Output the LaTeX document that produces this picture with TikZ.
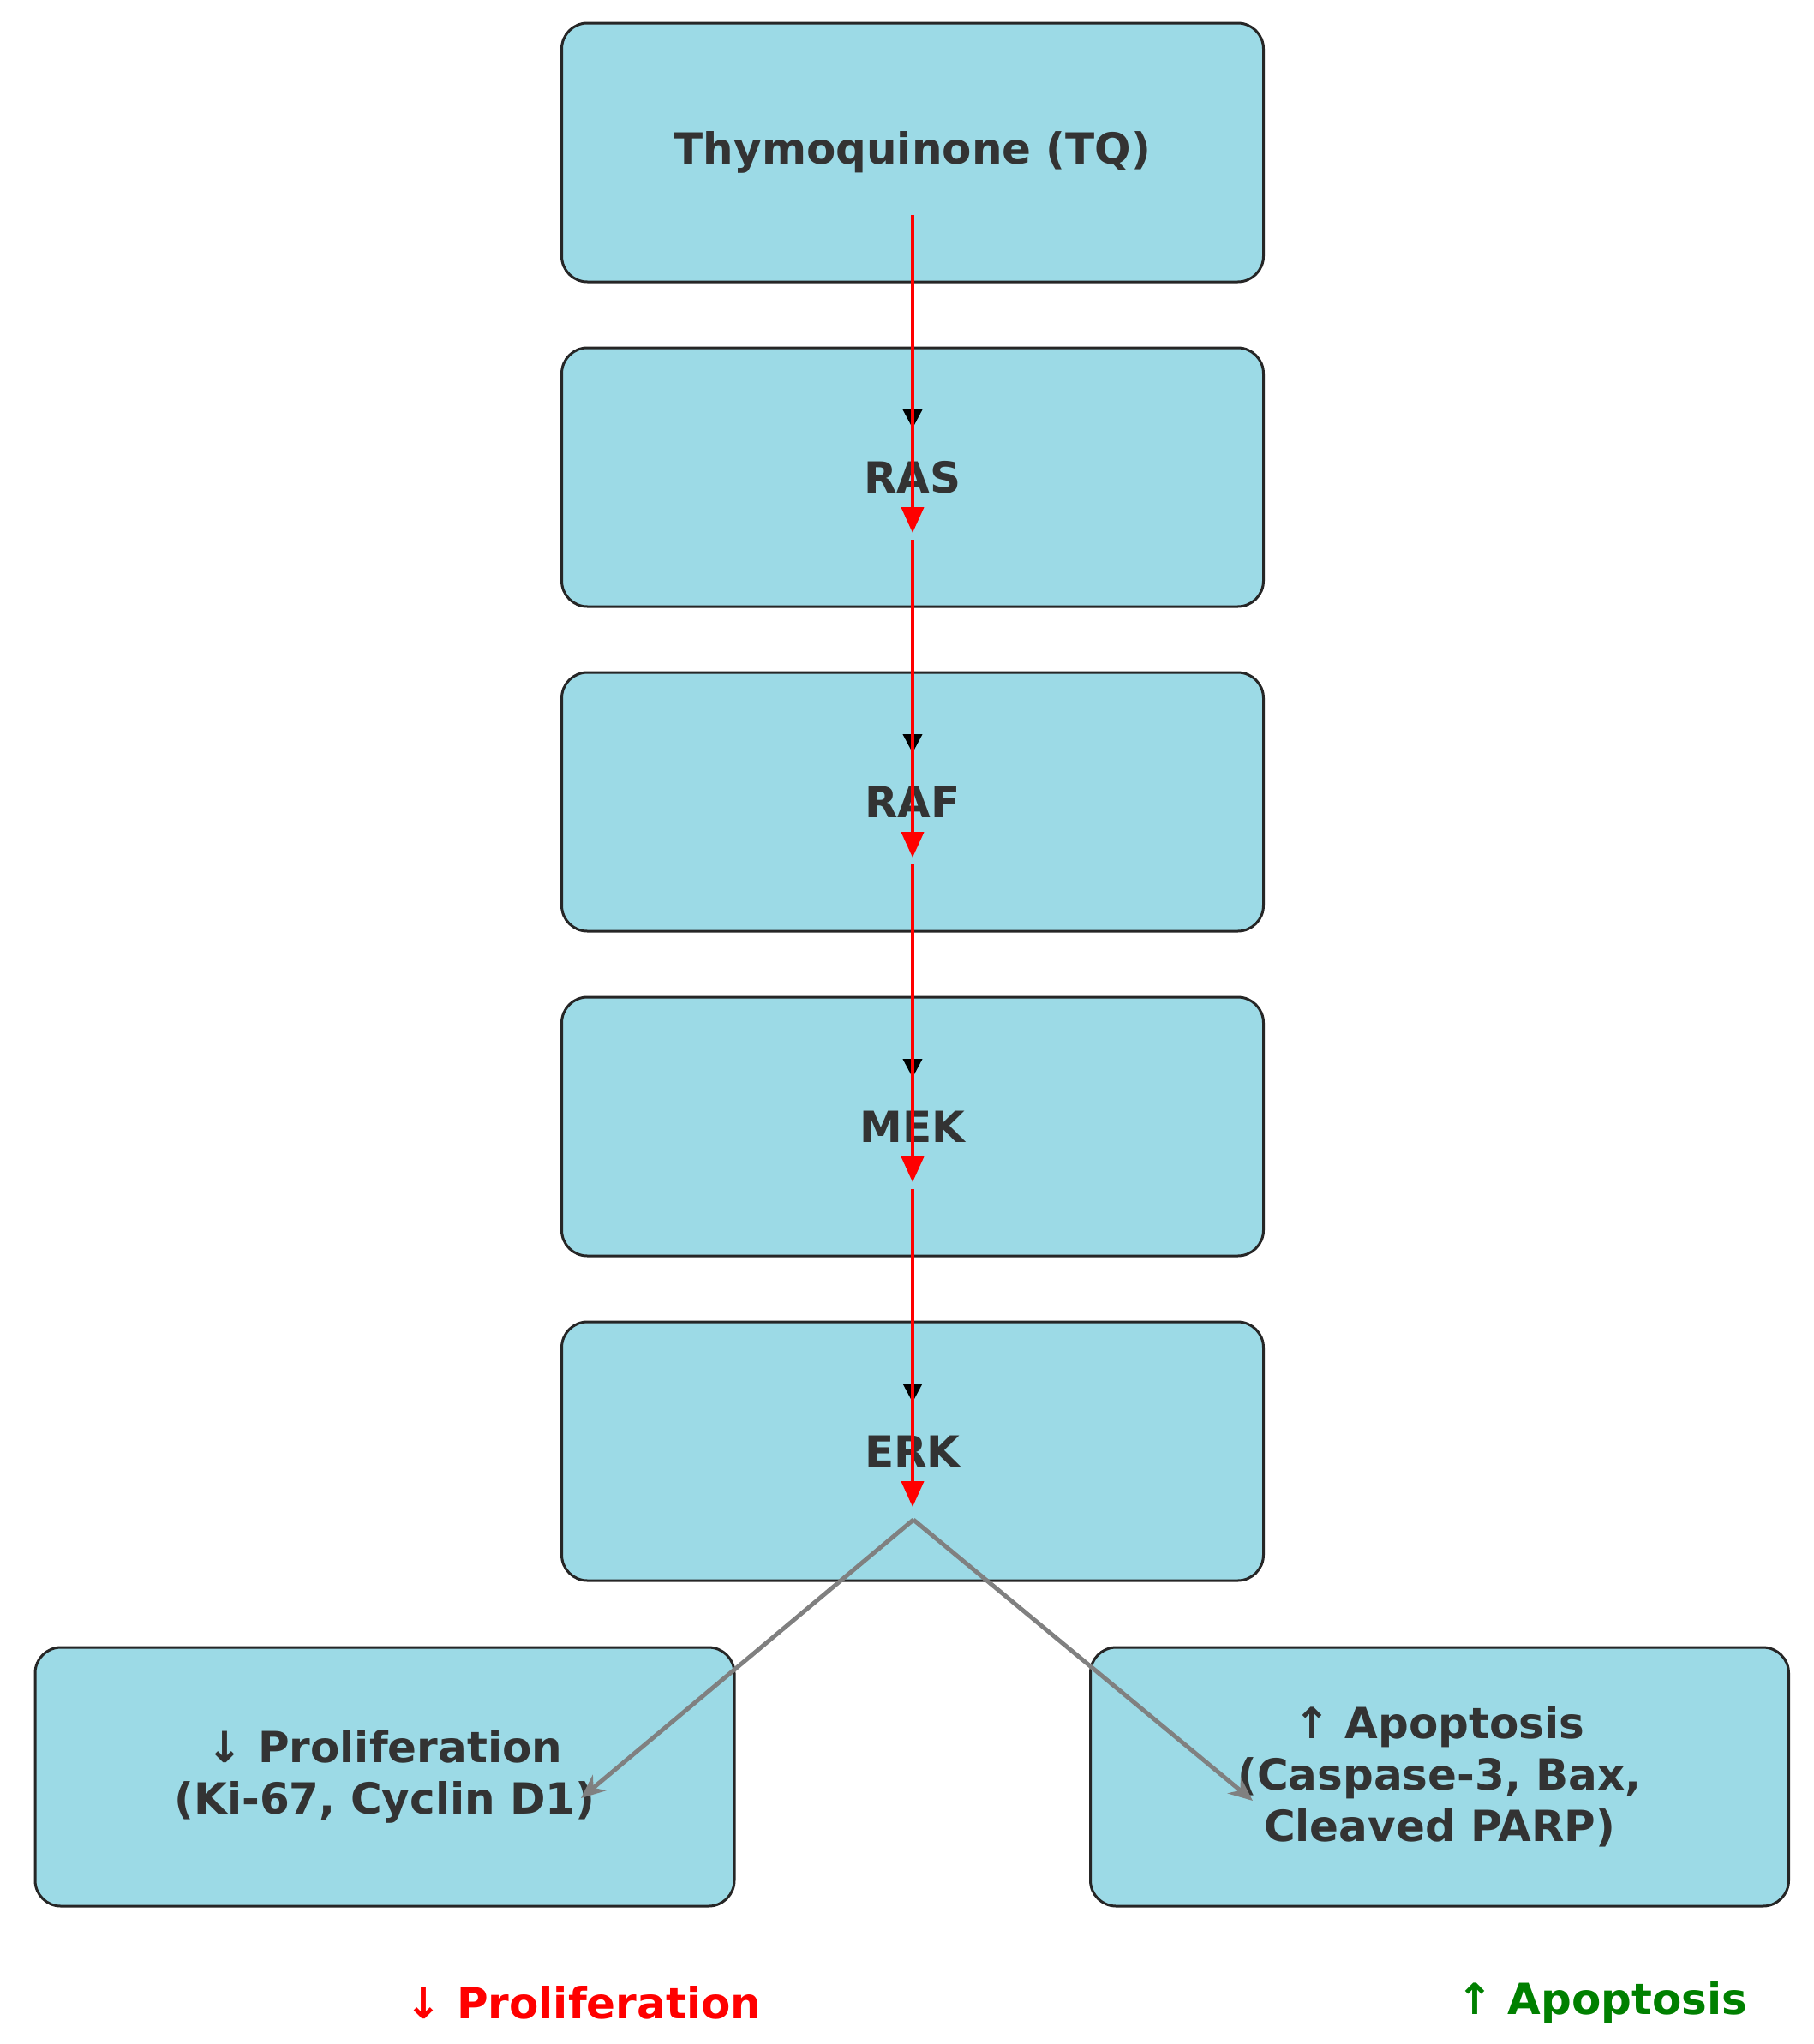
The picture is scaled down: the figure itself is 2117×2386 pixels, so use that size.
\documentclass[tikz,border=0pt]{standalone}
\usepackage{fontspec}
\setmainfont{DejaVu Sans}
\usetikzlibrary{arrows.meta}
\definecolor{boxfill}{HTML}{9CDAE6}
\definecolor{txt}{HTML}{333333}
\definecolor{grn}{HTML}{008000}
\begin{document}
\begin{tikzpicture}[x=1pt,y=-1pt,
  box/.style={draw=black!85,line width=3pt,fill=boxfill,rounded corners=30pt,minimum width=819pt,minimum height=302pt,inner sep=0pt,font=\fontsize{50}{60}\selectfont\bfseries,text=txt,align=center},
  redarr/.style={red,line width=4pt,-{Triangle[length=30pt,width=26pt]}},
  blkarr/.style={black,line width=4pt,-{Triangle[length=22pt,width=22pt]}},
  grayarr/.style={gray,line width=5pt,-{Stealth[length=28pt,width=24pt]}}]
\useasboundingbox (0,0) rectangle (2117,2386);
\node[box] (b0) at (1065,178) {Thymoquinone (TQ)};
\node[box] (b1) at (1065,557) {RAS};
\node[box] (b2) at (1065,936) {RAF};
\node[box] (b3) at (1065,1315) {MEK};
\node[box] (b4) at (1065,1694) {ERK};
\node[box,minimum width=816pt] (p) at (449,2074) {↓ Proliferation\\(Ki-67, Cyclin D1)};
\node[box,minimum width=815pt] (a) at (1680,2074) {↑ Apoptosis\\(Caspase-3, Bax,\\Cleaved PARP)};
\foreach \i in {0,1,2,3}{
  \coordinate (s\i) at (1065,263+379*\i);
  \coordinate (k\i) at (1065,500+379*\i);
  \coordinate (t\i) at (1065,622+379*\i);
  \draw[blkarr] (s\i) -- (k\i);
  \draw[redarr] ([yshift=12pt]s\i) -- (t\i);
}
\coordinate (e) at (1066,1774);
\coordinate (pe) at (678,2099);
\coordinate (ae) at (1462,2102);
\draw[grayarr] (e) -- (pe);
\draw[grayarr] (e) -- (ae);
\node[font=\fontsize{50}{60}\selectfont\bfseries,text=red] (lp) at (681,2338) {↓ Proliferation};
\node[font=\fontsize{50}{60}\selectfont\bfseries,text=grn] (la) at (1870,2338) {↑ Apoptosis};
\end{tikzpicture}
\end{document}
